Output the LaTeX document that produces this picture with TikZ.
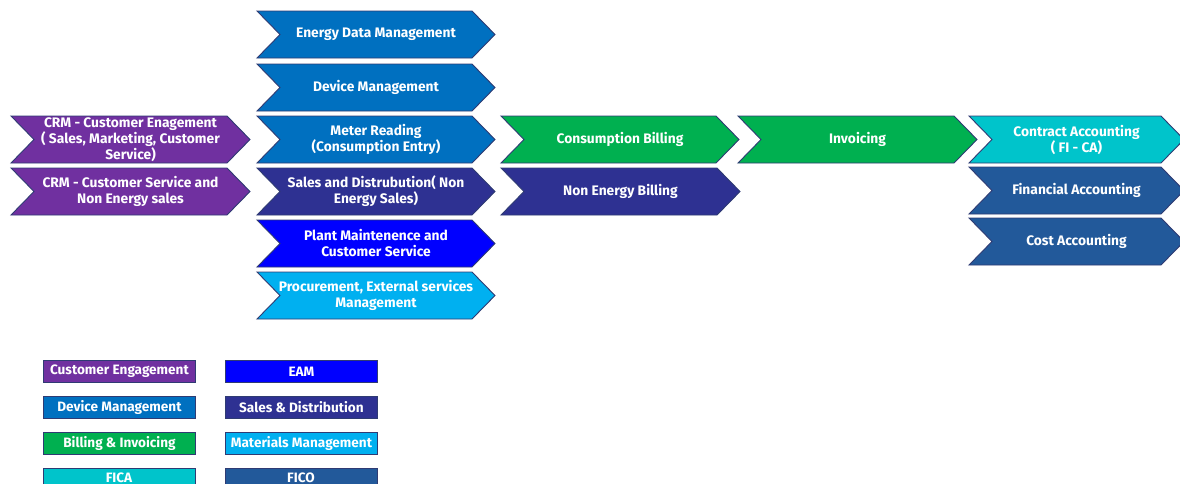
\documentclass[tikz,border=0pt]{standalone}
\usepackage{fontspec}
\setmainfont{Fira Sans}
\definecolor{cpurple}{HTML}{7030A0}
\definecolor{cdev}{HTML}{0070C0}
\definecolor{cgreen}{HTML}{00B050}
\definecolor{ccyan}{HTML}{00C4CB}
\definecolor{ceam}{HTML}{0000FF}
\definecolor{csd}{HTML}{2E3192}
\definecolor{cmm}{HTML}{00B0F0}
\definecolor{cfico}{HTML}{22599A}
\definecolor{cedge}{HTML}{2F3B73}
\tikzset{
  chevline/.style={draw=cedge, line width=0.9pt},
  chevtext/.style={text=white, font=\fontsize{13.8}{16}\selectfont\bfseries, align=center, inner sep=0pt},
  legfont/.style={text=white, font=\fontsize{13.6}{14}\selectfont\bfseries},
  legbox/.style={legfont, draw=cedge, line width=0.9pt, minimum width=152pt, minimum height=22pt, inner sep=0pt, anchor=north west},
}
% #1 name, #2 left x, #3 top y, #4 tip x, #5 colour, #6 text
\newcommand{\chev}[6]{%
  \path[chevline, fill=#5] (#2,#3) -- (#4-23,#3) -- (#4,#3+23.5) -- (#4-23,#3+47) -- (#2,#3+47) -- (#2+23,#3+23.5) -- cycle;
  \node[chevtext] (#1) at ({(#2+#4)/2}, #3+23.5) {#6};%
}
\begin{document}
\begin{tikzpicture}[x=1pt, y=-1pt]
\useasboundingbox (0,0) rectangle (1180,483);
\clip (0,0) rectangle (1180,483);
% column 1
\chev{crmA}{11}{116}{250}{cpurple}{CRM - Customer Enagement\\( Sales, Marketing, Customer\\Service)}
\chev{crmB}{11}{168}{250}{cpurple}{CRM - Customer Service and\\Non Energy sales}
% column 2
\chev{edm}{257}{11}{495}{cdev}{Energy Data Management}
\chev{dm}{257}{64}{495}{cdev}{Device Management}
\chev{mr}{257}{116}{495}{cdev}{Meter Reading\\(Consumption Entry)}
\chev{sd}{257}{168}{495}{csd}{Sales and Distrubution( Non\\Energy Sales)}
\chev{pm}{257}{220}{495}{ceam}{Plant Maintenence and\\Customer Service}
\chev{proc}{257}{272}{495}{cmm}{Procurement, External services\\Management}
% column 3
\chev{cb}{501}{116}{739}{cgreen}{Consumption Billing}
\chev{neb}{501}{168}{740}{csd}{Non Energy Billing}
% column 4
\chev{inv}{738}{116}{977}{cgreen}{Invoicing}
% column 5
\chev{ca}{969}{116}{1184}{ccyan}{Contract Accounting\\( FI - CA)}
\chev{fa}{969}{167}{1184}{cfico}{Financial Accounting}
\chev{cost}{969}{218}{1184}{cfico}{Cost Accounting}
% legend
\node[legbox, fill=cpurple] (lce) at (43,360) {Customer Engagement};
\node[legbox, fill=cdev] (ldm) at (43,396) {Device Management};
\node[legbox, fill=cgreen] (lbi) at (43,432) {Billing \& Invoicing};
\node[legbox, fill=ccyan] (lfica) at (43,468) {};
\node[legfont, anchor=base] (lficat) at (119,482) {FICA};
\node[legbox, fill=ceam] (leam) at (225,360) {EAM};
\node[legbox, fill=csd] (lsd) at (225,396) {Sales \& Distribution};
\node[legbox, fill=cmm] (lmm) at (225,432) {Materials Management};
\node[legbox, fill=cfico] (lfico) at (225,468) {};
\node[legfont, anchor=base] (lficot) at (301,482) {FICO};
\end{tikzpicture}
\end{document}
